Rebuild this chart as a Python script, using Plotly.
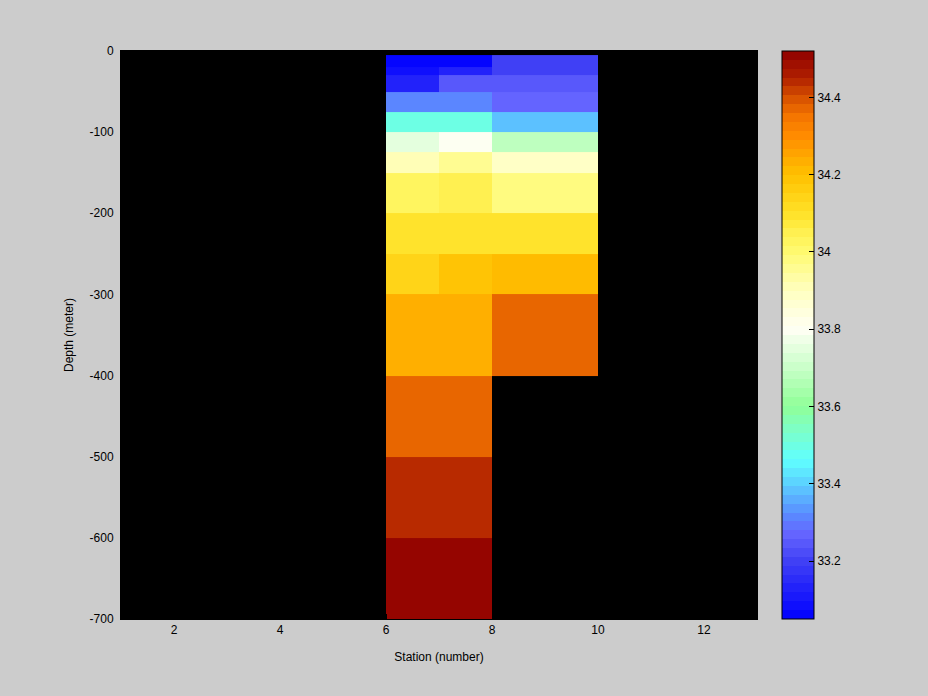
import numpy as np
import plotly.graph_objects as go

# Station edges (x) and depth edges (y, metres, negative downward)
station_edges = [6, 7, 8, 10]
depth_edges = [-5, -20, -30, -50, -75, -100, -125, -150, -200, -250, -300, -400, -500, -600, -700]

# Salinity per cell, rows from top (shallow) to bottom; columns: stations 6-7, 7-8, 8-10
nan = float("nan")
sal_st6 = [33.05, 33.08, 33.12, 33.32, 33.50, 33.75, 33.90, 34.03, 34.09, 34.15, 34.24, 34.36, 34.45, 34.52]
sal_st7 = [33.05, 33.12, 33.24, 33.32, 33.50, 33.79, 33.95, 34.05, 34.09, 34.18, 34.24, 34.36, 34.45, 34.52]
sal_st8 = [33.20, 33.20, 33.24, 33.26, 33.39, 33.68, 33.88, 33.98, 34.09, 34.22, 34.36, nan, nan, nan]

x_ticks = [2, 4, 6, 8, 10, 12]
y_ticks = [0, -100, -200, -300, -400, -500, -600, -700]
y_ticktext = ["0", "-100", "-200", "-300", "-400", "-500", "-600", "-700"]
cb_ticks = [33.2, 33.4, 33.6, 33.8, 34.0, 34.2, 34.4]
cb_ticktext = ["33.2", "33.4", "33.6", "33.8", "34", "34.2", "34.4"]
zmin, zmax = 33.05, 34.52

# colormap anchors (value, rgb)
anchors = [
    (33.05, (0, 0, 255)), (33.20, (64, 64, 245)), (33.27, (101, 101, 255)),
    (33.32, (90, 138, 255)), (33.40, (92, 208, 255)), (33.46, (96, 255, 255)),
    (33.55, (128, 255, 192)), (33.60, (144, 255, 152)), (33.70, (200, 255, 200)),
    (33.80, (255, 255, 244)), (33.90, (255, 255, 192)), (34.00, (255, 250, 112)),
    (34.05, (255, 240, 80)), (34.10, (255, 226, 40)), (34.20, (255, 192, 0)),
    (34.30, (255, 140, 0)), (34.35, (245, 117, 0)), (34.40, (214, 80, 0)),
    (34.45, (176, 32, 0)), (34.52, (144, 0, 0)),
]
av = np.array([a[0] for a in anchors])
ac = np.array([a[1] for a in anchors], dtype=float)
n = 64
colorscale = []
for i in range(n):
    v = zmin + (i + 0.5) / n * (zmax - zmin)
    c = [int(round(np.interp(v, av, ac[:, k]))) for k in range(3)]
    col = f"rgb({c[0]},{c[1]},{c[2]})"
    colorscale.append([i / n, col])
    colorscale.append([(i + 1) / n, col])

z = np.array([sal_st6, sal_st7, sal_st8]).T  # rows = depth, cols = station
y_edges = depth_edges[::-1]
z = z[::-1]

plot_w = 636
cb_x = (782 - 121) / plot_w
cb_thick = 32

fig = go.Figure(go.Heatmap(
    x=station_edges, y=y_edges, z=z,
    zmin=zmin, zmax=zmax, colorscale=colorscale,
    hoverinfo="skip",
    colorbar=dict(
        x=cb_x, xanchor="left", xref="paper",
        y=0.5, yanchor="middle", len=1.0, lenmode="fraction",
        thickness=cb_thick, thicknessmode="pixels", ypad=0, xpad=0,
        outlinecolor="black", outlinewidth=1,
        tickvals=cb_ticks, ticktext=cb_ticktext,
        ticks="inside", ticklen=5, tickcolor="black",
        tickfont=dict(family="Liberation Sans, Arial, sans-serif", size=12, color="black"),
    ),
))

axis_font = dict(family="Liberation Sans, Arial, sans-serif", size=12, color="black")
fig.update_layout(
    width=928, height=696,
    margin=dict(l=121, r=171, t=51, b=77),
    paper_bgcolor="#cccccc", plot_bgcolor="black",
    font=axis_font,
    showlegend=False,
    xaxis=dict(range=[1, 13], tickvals=x_ticks, showgrid=False, zeroline=False,
               showline=True, linecolor="black", mirror=True, ticks="inside",
               tickcolor="black", ticklen=5, tickfont=axis_font,
               title=dict(text="Station (number)", font=axis_font, standoff=16)),
    yaxis=dict(range=[-700, 0], tickvals=y_ticks, ticktext=y_ticktext,
               showgrid=False, zeroline=False,
               showline=True, linecolor="black", mirror=True, ticks="inside",
               tickcolor="black", ticklen=5, tickfont=axis_font, ticklabelstandoff=4,
               title=dict(text="Depth (meter)", font=axis_font, standoff=13)),
)

fig.write_html(
    "out.html",
    config={"displayModeBar": False},
    post_script="document.body.style.margin='0';document.body.style.background='#cccccc';",
)
